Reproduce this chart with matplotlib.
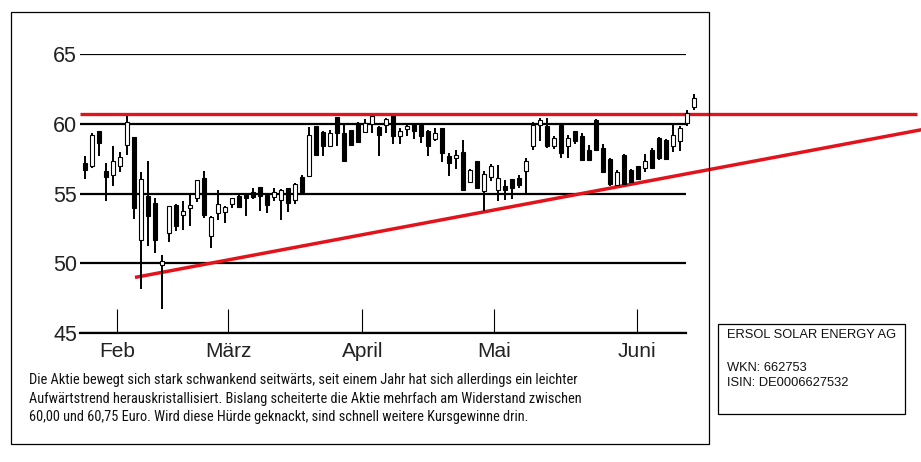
import matplotlib
matplotlib.use("Agg")
import matplotlib.pyplot as plt
from matplotlib.patches import Rectangle
from matplotlib import font_manager

# ---------------- data ----------------
opens = [57.2, 57.0, 59.5, 56.6, 56.3, 56.95, 58.5, 59.05, 51.7, 54.8,
         54.32, 49.9, 52.17, 54.2, 53.48, 53.96, 54.68, 56.11, 51.93, 53.6,
         53.65, 54.27, 54.8, 54.92, 55.15, 55.47, 54.92, 54.75, 54.56, 55.39,
         54.51, 56.18, 56.28, 59.81, 59.4, 58.42, 60.48, 59.33, 59.52, 60.05,
         59.38, 60.0, 59.8, 59.93, 60.53, 59.09, 59.62, 59.93, 59.93, 59.45,
         58.9, 59.69, 57.71, 57.54, 57.98, 55.8, 57.3, 55.16, 56.18, 55.23,
         55.51, 56.04, 56.1, 56.59, 58.38, 59.93, 59.81, 58.38, 59.93, 58.38,
         59.45, 59.09, 58.14, 60.29, 58.26, 57.47, 55.63, 57.78, 56.7, 56.94,
         56.82, 58.14, 58.97, 58.85, 58.38, 58.73, 60.05, 61.19]
highs = [57.66, 59.33, 59.5, 57.18, 58.38, 57.97, 60.57, 59.05, 56.52, 57.3,
         54.68, 50.62, 54.13, 54.27, 54.44, 55.04, 56.0, 56.59, 53.37, 55.27,
         54.08, 54.68, 54.92, 54.96, 55.39, 55.47, 54.92, 55.39, 55.32, 55.39,
         55.75, 56.35, 59.76, 59.86, 59.45, 59.57, 60.48, 60.0, 59.57, 60.1,
         60.33, 60.57, 59.81, 60.41, 60.57, 59.69, 60.0, 60.0, 60.0, 59.52,
         59.69, 59.69, 57.9, 58.14, 58.85, 56.78, 57.35, 56.59, 57.09, 57.02,
         55.94, 56.04, 56.35, 57.54, 60.1, 60.41, 60.41, 59.09, 59.93, 59.21,
         59.45, 59.33, 58.5, 60.33, 58.57, 57.54, 56.7, 57.85, 56.75, 56.99,
         57.85, 58.26, 59.04, 58.9, 60.0, 59.86, 60.96, 62.15]
lows = [56.04, 56.83, 57.66, 54.44, 55.51, 56.52, 57.78, 53.2, 48.19, 51.22,
        50.74, 46.73, 51.5, 52.29, 52.41, 52.7, 54.37, 53.25, 51.1, 53.13,
        52.89, 53.96, 53.96, 53.41, 54.61, 53.72, 53.6, 54.44, 53.13, 53.65,
        54.27, 55.04, 56.23, 57.71, 57.66, 58.38, 58.38, 57.23, 58.38, 58.62,
        59.33, 59.33, 57.66, 59.33, 58.57, 58.57, 59.14, 58.9, 58.62, 57.71,
        58.74, 57.23, 56.23, 56.78, 55.23, 55.75, 55.32, 53.72, 55.87, 54.44,
        54.56, 54.61, 55.39, 55.03, 58.09, 58.73, 58.26, 58.18, 57.54, 57.54,
        58.57, 57.37, 57.37, 58.02, 56.51, 55.56, 55.56, 55.63, 55.75, 55.99,
        56.58, 56.75, 57.42, 57.47, 57.95, 58.02, 59.81, 61.0]
closes = [56.7, 59.2, 58.6, 56.2, 57.3, 57.6, 60.1, 53.96, 56.04, 53.37,
          51.69, 50.14, 54.08, 52.65, 53.77, 54.2, 55.99, 53.48, 53.32, 54.27,
          54.03, 54.68, 54.03, 54.68, 54.73, 54.8, 54.2, 55.08, 55.23, 54.32,
          55.7, 55.08, 59.21, 57.78, 58.38, 59.33, 59.33, 57.3, 58.5, 58.66,
          60.05, 60.53, 59.2, 60.33, 59.09, 59.45, 59.81, 59.45, 59.09, 58.38,
          59.33, 57.9, 57.18, 57.78, 55.28, 56.66, 55.37, 56.42, 56.95, 56.11,
          55.27, 55.39, 55.6, 57.3, 59.93, 60.29, 58.42, 58.97, 57.9, 58.97,
          58.73, 57.42, 57.42, 58.14, 56.58, 55.7, 56.58, 55.7, 55.8, 56.03,
          57.3, 56.82, 57.54, 57.47, 59.21, 59.69, 60.76, 61.84]

month_labels = ["Feb", "März", "April", "Mai", "Juni"]
month_pos = [4.53, 20.47, 39.61, 58.47, 78.9]
y_ticks = [45, 50, 55, 60, 65]

resistance_level = 60.7
resistance_x = [-0.714, 118.9]
trend_x = [7.14, 120.0]
trend_y = [49.0, 59.62]

body_lines = [
    "Die Aktie bewegt sich stark schwankend seitwärts, seit einem Jahr hat sich allerdings ein leichter",
    "Aufwärtstrend herauskristallisiert. Bislang scheiterte die Aktie mehrfach am Widerstand zwischen",
    "60,00 und 60,75 Euro. Wird diese Hürde geknackt, sind schnell weitere Kursgewinne drin.",
]
info_title = "ERSOL SOLAR ENERGY AG"
info_lines = ["WKN: 662753", "ISIN: DE0006627532"]

# ---------------- fonts ----------------
avail = {f.name for f in font_manager.fontManager.ttflist}
body_font = "Roboto"
for cand in ["Roboto Condensed", "Liberation Sans Narrow", "Open Sans Condensed", "Noto Sans Condensed"]:
    if cand in avail:
        body_font = cand
        break
plt.rcParams['font.family'] = ['Liberation Sans', 'DejaVu Sans']

W, H = 921, 462
fig = plt.figure(figsize=(W / 100, H / 100), dpi=100)
fig.patch.set_facecolor("white")

def fx(px):
    return px / W

def fy(py):
    return 1 - py / H

ax_left, ax_right, ax_bottom, ax_top = 80, 685.5, 333.3, 53.9
ax = fig.add_axes([fx(ax_left), fy(ax_bottom), fx(ax_right - ax_left), (ax_bottom - ax_top) / H])
ax.set_xlim(-0.714, 85.79)
ax.set_ylim(45, 65)
ax.set_facecolor("none")

for s in ["left", "right", "top"]:
    ax.spines[s].set_visible(False)
ax.spines["bottom"].set_linewidth(1.6)
ax.spines["bottom"].set_color("black")

ax.set_yticks(y_ticks)
ax.set_yticklabels([str(v) for v in y_ticks])
ax.tick_params(axis="y", length=0, pad=2, labelsize=15.5, labelcolor="#222222")
ax.yaxis.grid(True, color="black", linewidth=1.6)
ax.set_axisbelow(True)

ax.set_xticks(month_pos)
ax.set_xticklabels(month_labels)
ax.tick_params(axis="x", direction="in", length=17.3, width=0.8, color="black",
               pad=6, labelsize=15, labelcolor="#222222")

red = "#e3131b"
ax.plot(resistance_x, [resistance_level, resistance_level], color=red, lw=2.4,
        clip_on=False, zorder=3, solid_capstyle="butt")
ax.plot(trend_x, trend_y, color=red, lw=2.5, clip_on=False, zorder=3, solid_capstyle="butt")

for i, (o, h, l, c) in enumerate(zip(opens, highs, lows, closes)):
    ax.vlines(i, l, h, color="black", lw=1.4, zorder=4, clip_on=False)
    up = c >= o
    bottom = min(o, c)
    height = max(abs(c - o), 0.12)
    ax.bar(i, height, bottom=bottom, width=0.57,
           color="white" if up else "black", edgecolor="black",
           linewidth=0.8, zorder=5, clip_on=False)

# outer frame
fig.add_artist(Rectangle((fx(10.7), fy(444.3)), fx(709 - 10.7), (444.3 - 11.7) / H,
                         transform=fig.transFigure, fill=False, edgecolor="black", lw=0.9))
# info box
fig.add_artist(Rectangle((fx(718), fy(414.3)), fx(905 - 718), (414.3 - 324) / H,
                         transform=fig.transFigure, fill=False, edgecolor="black", lw=0.9))

renderer = fig.canvas.get_renderer()

def fit_text(x, y, s, size, family, target_w, **kw):
    t = fig.text(x, y, s, fontsize=size, family=family, **kw)
    w = t.get_window_extent(renderer=renderer).width
    t.set_fontsize(size * target_w / w)
    return t

title_t = fit_text(fx(726.5), fy(335), info_title, 9, ["Liberation Sans", "DejaVu Sans"], 170,
                   va="center", ha="left", color="#111111")
box_size = title_t.get_fontsize()
for k, line in enumerate(info_lines):
    fig.text(fx(726.5), fy(368 + 15.5 * k), line, fontsize=box_size, va="center", ha="left",
             color="#111111", family=["Liberation Sans", "DejaVu Sans"])

first = fit_text(fx(29), fy(380), body_lines[0], 10.5, [body_font, "DejaVu Sans"], 554,
                 va="center", ha="left", color="#111111")
body_size = first.get_fontsize()
for k, line in enumerate(body_lines[1:], start=1):
    fig.text(fx(29), fy(380 + 18.5 * k), line, fontsize=body_size, va="center", ha="left",
             color="#111111", family=[body_font, "DejaVu Sans"])

fig.savefig("out.png", dpi=100, facecolor="white")
